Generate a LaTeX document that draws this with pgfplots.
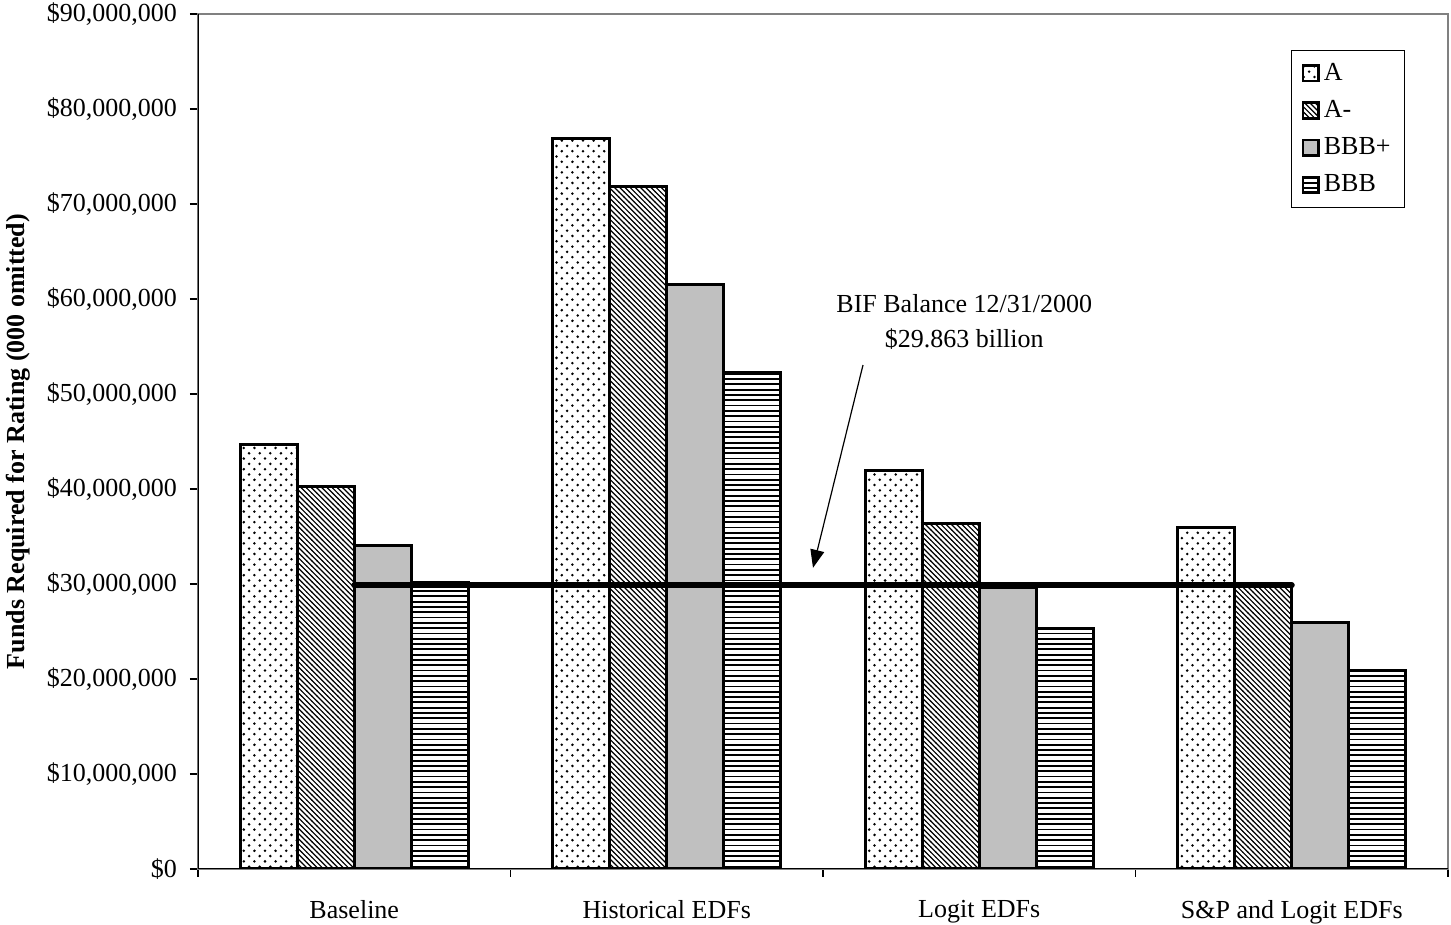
\documentclass[border=0pt]{standalone}
\usepackage{pgfplots}
\pgfplotsset{compat=1.18}
\usepackage{fontspec}
\setmainfont{Liberation Serif}
\usetikzlibrary{patterns,arrows.meta}

\pgfdeclarepatternformonly{sdots}{\pgfqpoint{-1pt}{-1pt}}{\pgfqpoint{4pt}{4pt}}{\pgfqpoint{5.3pt}{5.3pt}}{%
  \pgfpathcircle{\pgfqpoint{0pt}{0pt}}{0.7pt}%
  \pgfpathcircle{\pgfqpoint{2.65pt}{2.65pt}}{0.7pt}%
  \pgfusepath{fill}}
\pgfdeclarepatternformonly{nwl}{\pgfqpoint{-1pt}{-1pt}}{\pgfqpoint{3.6pt}{3.6pt}}{\pgfqpoint{2.6pt}{2.6pt}}{%
  \pgfsetlinewidth{0.6pt}%
  \pgfpathmoveto{\pgfqpoint{-0.1pt}{2.7pt}}%
  \pgfpathlineto{\pgfqpoint{2.7pt}{-0.1pt}}%
  \pgfusepath{stroke}}
\pgfdeclarepatternformonly{hl}{\pgfqpoint{-1pt}{-1pt}}{\pgfqpoint{3.65pt}{1.5pt}}{\pgfqpoint{2.65pt}{2.65pt}}{%
  \pgfsetlinewidth{0.9pt}%
  \pgfpathmoveto{\pgfqpoint{-0.1pt}{0pt}}%
  \pgfpathlineto{\pgfqpoint{2.75pt}{0pt}}%
  \pgfusepath{stroke}}

\definecolor{barsilver}{HTML}{C0C0C0}

\begin{document}
\begin{tikzpicture}[font=\fontsize{13}{15.6}\selectfont]
\begin{axis}[
  at={(0,0)}, anchor=south west,
  width=625pt, height=427.5pt, scale only axis,
  xmin=-0.5, xmax=3.5, ymin=0, ymax=90,
  xtick={0,1,2,3},
  xticklabels={Baseline, Historical EDFs, Logit EDFs, S\&P and Logit EDFs},
  minor xtick={-0.5,0.5,1.5,2.5,3.5},
  ytick={0,10,...,90},
  yticklabels={{\$0},{\$10,000,000},{\$20,000,000},{\$30,000,000},{\$40,000,000},{\$50,000,000},{\$60,000,000},{\$70,000,000},{\$80,000,000},{\$90,000,000}},
  tick align=outside, tick pos=left,
  major tick length=4pt, minor tick length=4pt,
  every tick/.style={black, line width=0.8pt},
  major x tick style={draw=none},
  axis line style={draw=gray, line width=1.3pt},
  x tick label style={font=\fontsize{13}{15.6}\selectfont, yshift=-8pt, text depth=0.25em},
  y tick label style={font=\fontsize{13}{15.6}\selectfont, xshift=-3pt},
  ylabel={\bfseries Funds Required for Rating (000 omitted)},
  every axis y label/.style={at={(axis description cs:-0.144,0.5)}, rotate=90, anchor=center, font=\fontsize{13}{15.6}\selectfont},
  legend style={at={(axis description cs:0.9656,0.958)}, anchor=north east, draw=black, line width=0.5pt, font=\fontsize{13}{15.6}\selectfont, row sep=4.6pt, inner xsep=5pt, inner ysep=4.3pt},
  legend cell align=left,
  legend image code/.code={\draw[#1, line width=1.3pt] (0pt,-3.9pt) rectangle (7.8pt,3.9pt);},
]
\addplot[ybar, bar width=28.5pt, bar shift=-42.75pt, draw=black, line width=1.5pt, pattern=sdots]
  coordinates {(0,44.7) (1,76.9) (2,41.9) (3,35.9)};
\addlegendentry{A}
\addplot[ybar, bar width=28.5pt, bar shift=-14.25pt, draw=black, line width=1.5pt, pattern=nwl]
  coordinates {(0,40.3) (1,71.8) (2,36.4) (3,29.8)};
\addlegendentry{A-}
\addplot[ybar, bar width=28.5pt, bar shift=14.25pt, draw=black, line width=1.5pt, fill=barsilver]
  coordinates {(0,34.0) (1,61.5) (2,29.6) (3,25.9)};
\addlegendentry{BBB+}
\addplot[ybar, bar width=28.5pt, bar shift=42.75pt, draw=black, line width=1.5pt, pattern=hl]
  coordinates {(0,30.2) (1,52.3) (2,25.3) (3,20.9)};
\addlegendentry{BBB}
\addplot[black, line width=3pt, line cap=round, forget plot]
  coordinates {(0,29.863) (3,29.863)};
\draw[black, line width=1pt] (rel axis cs:0,1) -- (rel axis cs:0,0) -- (rel axis cs:1,0);
\draw[-{Triangle[length=9pt,width=7pt]}, line width=0.6pt] (axis cs:1.628,53.05) -- (axis cs:1.468,31.7);
\node[align=center, font=\fontsize{13}{17.5}\selectfont] at (axis cs:1.952,57.6) {BIF Balance 12/31/2000\\\$29.863 billion};
\end{axis}
\pgfresetboundingbox
\path (-99pt,-28pt) rectangle (626.5pt,434.5pt);
\end{tikzpicture}
\end{document}
